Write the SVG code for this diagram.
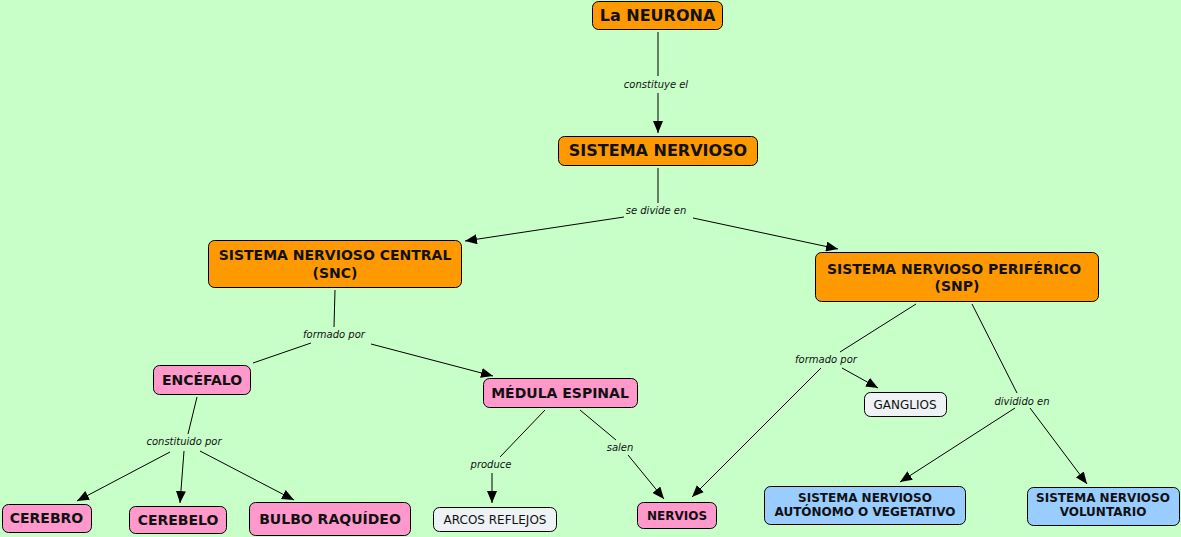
<svg xmlns="http://www.w3.org/2000/svg" width="1181" height="537" viewBox="0 0 1181 537">
<defs>
<marker id="arr" markerUnits="userSpaceOnUse" markerWidth="12" markerHeight="10" refX="12" refY="5" orient="auto">
<path d="M0,0 L12,5 L0,10 z" fill="#000"/>
</marker>
<style>
.n rect{stroke:#000;stroke-width:1;rx:6px;ry:6px}
.or rect{fill:#ff9900}
.pk rect{fill:#ff99cc}
.bl rect{fill:#99ccff}
.wh rect{fill:#eef2f5}
.n text{font-family:"DejaVu Sans",Verdana,sans-serif;font-weight:bold;fill:#111;text-anchor:middle}
.wh text{font-weight:normal}
.c line{stroke:#000;stroke-width:1}
.c line.a{marker-end:url(#arr)}
.c text{font-family:"DejaVu Sans",Verdana,sans-serif;font-style:italic;font-size:10px;fill:#111;text-anchor:middle}
</style>
</defs>
<rect x="0" y="0" width="1181" height="537" fill="#c8ffc8"/>
<g id="connectors" class="c">
<line x1="658" y1="32" x2="658" y2="76"/>
<text x="656" y="88">constituye el</text>
<line class="a" x1="658" y1="93" x2="658" y2="133"/>
<line x1="658" y1="168" x2="658" y2="203"/>
<text x="656" y="214">se divide en</text>
<line class="a" x1="624" y1="217" x2="465" y2="241"/>
<line class="a" x1="693" y1="218" x2="838" y2="249"/>
<line x1="335" y1="290" x2="334" y2="327"/>
<text x="334" y="338">formado por</text>
<line x1="311" y1="343" x2="253" y2="363"/>
<line class="a" x1="371" y1="344" x2="493" y2="376"/>
<line x1="197" y1="397" x2="188" y2="434"/>
<text x="184" y="445">constituido por</text>
<line class="a" x1="170" y1="452" x2="77" y2="501"/>
<line class="a" x1="184" y1="451" x2="180" y2="503"/>
<line class="a" x1="200" y1="451" x2="294" y2="500"/>
<line x1="545" y1="410" x2="500" y2="457"/>
<text x="491" y="468">produce</text>
<line class="a" x1="492" y1="473" x2="492" y2="503"/>
<line x1="580" y1="410" x2="616" y2="440"/>
<text x="620" y="451">salen</text>
<line class="a" x1="628" y1="455" x2="664" y2="499"/>
<line x1="916" y1="304" x2="840" y2="352"/>
<text x="826" y="363">formado por</text>
<line class="a" x1="821" y1="368" x2="692" y2="497"/>
<line class="a" x1="842" y1="368" x2="878" y2="388"/>
<line x1="972" y1="304" x2="1017" y2="393"/>
<text x="1022" y="405">dividido en</text>
<line class="a" x1="1015" y1="408" x2="900" y2="482"/>
<line class="a" x1="1030" y1="408" x2="1087" y2="484"/>
</g>
<g id="neurona" class="n or"><rect x="592.5" y="1.5" width="130" height="28"/><text x="657.5" y="21" font-size="16">La NEURONA</text></g>
<g id="sistema-nervioso" class="n or"><rect x="558.5" y="136.5" width="199" height="29"/><text x="658" y="156" font-size="16">SISTEMA NERVIOSO</text></g>
<g id="snc" class="n or"><rect x="208.5" y="240.5" width="253" height="47"/><text x="335" y="260" font-size="14">SISTEMA NERVIOSO CENTRAL</text><text x="335" y="278" font-size="14">(SNC)</text></g>
<g id="snp" class="n or"><rect x="815.5" y="252.5" width="283" height="49"/><text x="954" y="274" font-size="14">SISTEMA NERVIOSO PERIFÉRICO</text><text x="957" y="291" font-size="14">(SNP)</text></g>
<g id="encefalo" class="n pk"><rect x="153.5" y="365.5" width="97" height="29"/><text x="202" y="385" font-size="14">ENCÉFALO</text></g>
<g id="medula" class="n pk"><rect x="483.5" y="378.5" width="154" height="29"/><text x="560" y="397.5" font-size="14">MÉDULA ESPINAL</text></g>
<g id="cerebro" class="n pk"><rect x="2.5" y="504.5" width="89" height="28"/><text x="46.5" y="523" font-size="14">CEREBRO</text></g>
<g id="cerebelo" class="n pk"><rect x="129.5" y="506.5" width="97" height="27"/><text x="178" y="524.5" font-size="14">CEREBELO</text></g>
<g id="bulbo" class="n pk"><rect x="249.5" y="502.5" width="161" height="33"/><text x="330" y="524" font-size="14">BULBO RAQUÍDEO</text></g>
<g id="arcos" class="n wh"><rect x="433.5" y="507.5" width="123" height="24"/><text x="495" y="523.5" font-size="12">ARCOS REFLEJOS</text></g>
<g id="nervios" class="n pk"><rect x="637.5" y="502.5" width="79" height="26"/><text x="677" y="519.5" font-size="12">NERVIOS</text></g>
<g id="ganglios" class="n wh"><rect x="864.5" y="392.5" width="82" height="24"/><text x="905" y="408.5" font-size="12">GANGLIOS</text></g>
<g id="autonomo" class="n bl"><rect x="764.5" y="486.5" width="201" height="38"/><text x="865" y="502" font-size="12">SISTEMA NERVIOSO</text><text x="865" y="516" font-size="12">AUTÓNOMO O VEGETATIVO</text></g>
<g id="voluntario" class="n bl"><rect x="1027.5" y="487.5" width="152" height="38"/><text x="1103" y="502" font-size="12">SISTEMA NERVIOSO</text><text x="1103" y="516" font-size="12">VOLUNTARIO</text></g>
</svg>
